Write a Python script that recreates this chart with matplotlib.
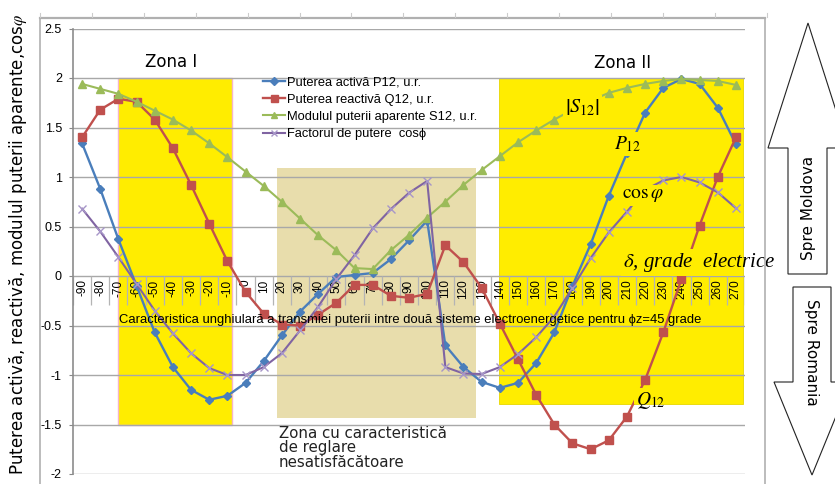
import matplotlib.pyplot as plt
from matplotlib.patches import Rectangle, Polygon
from matplotlib.lines import Line2D

plt.rcParams['font.family'] = ['Liberation Sans', 'DejaVu Sans']
plt.rcParams['mathtext.fontset'] = 'stix'

W, H = 835, 484

# unghiul de putere, grade electrice
delta = [-90, -80, -70, -60, -50, -40, -30, -20, -10, 0, 10, 20, 30, 40, 50, 60, 70,
         80, 90, 100, 110, 120, 130, 140, 150, 160, 170, 180, 190, 200, 210, 220,
         230, 240, 250, 260, 270]

P12 = [1.34, 0.88, 0.37, -0.10, -0.57, -0.92, -1.15, -1.25, -1.21, -1.08, -0.86,
       -0.60, -0.36, -0.18, -0.01, 0.01, 0.03, 0.17, 0.36, 0.56, -0.70, -0.92,
       -1.07, -1.13, -1.08, -0.88, -0.57, -0.10, 0.32, 0.81, 1.24, 1.65, 1.90,
       1.99, 1.94, 1.70, 1.33]

Q12 = [1.40, 1.68, 1.79, 1.76, 1.58, 1.29, 0.92, 0.53, 0.15, -0.16, -0.38, -0.49,
       -0.50, -0.39, -0.27, -0.09, -0.09, -0.20, -0.22, -0.18, 0.31, 0.14, -0.12,
       -0.48, -0.84, -1.20, -1.50, -1.69, -1.75, -1.66, -1.42, -1.05, -0.57,
       -0.03, 0.51, 1.00, 1.40]

S12 = [1.94, 1.89, 1.84, 1.76, 1.67, 1.58, 1.47, 1.34, 1.20, 1.055, 0.91, 0.75,
       0.58, 0.41, 0.26, 0.08, 0.07, 0.26, 0.415, 0.59, 0.75, 0.92, 1.07, 1.21,
       1.35, 1.47, 1.58, 1.68, 1.77, 1.85, 1.90, 1.94, 1.97, 1.99, 1.98, 1.97, 1.93]

cosphi = [0.68, 0.45, 0.19, -0.08, -0.35, -0.58, -0.78, -0.93, -1.00, -1.00, -0.92,
          -0.78, -0.55, -0.31, -0.03, 0.21, 0.48, 0.675, 0.84, 0.96, -0.92, -0.985,
          -0.99, -0.92, -0.79, -0.62, -0.41, -0.12, 0.18, 0.44, 0.65, 0.87, 0.965,
          1.00, 0.945, 0.845, 0.685]

names = ['Puterea activă P12, u.r.', 'Puterea reactivă Q12, u.r.',
         'Modulul puterii aparente S12, u.r.', 'Factorul de putere  cosϕ']

yticks = [-2, -1.5, -1, -0.5, 0, 0.5, 1, 1.5, 2, 2.5]

yellow = '#ffed00'
tan = '#e8ddac'
grid = '#a8a8a8'


def fx(px):
    return px / W


def fy(py):
    return 1 - py / H


fig = plt.figure(figsize=(W / 100, H / 100), dpi=100)
ax = fig.add_axes([fx(73), fy(474), (745 - 73) / W, (474 - 28.5) / H])
xs = list(range(len(delta)))
ax.set_xlim(-0.5, len(delta) - 0.5)
ax.set_ylim(-2, 2.5)

# zone
zone1 = Rectangle((2, -1.5), 6.25, 3.5, fc=yellow, ec='#f5b5c8', lw=1, zorder=1)
zone2 = Rectangle((22.96, -1.29), 13.43, 3.29, fc=yellow, ec='#e6d600', lw=0.6, zorder=1)
zone3 = Rectangle((10.73, -1.43), 10.96, 2.52, fc=tan, ec='none', zorder=1)
for r in (zone1, zone2, zone3):
    ax.add_patch(r)

for v in yticks:
    ax.axhline(v, color=grid, lw=1.0, zorder=1.5)

# celulele etichetelor de pe axa orizontala
ax.vlines([k - 0.5 for k in range(len(delta) + 1)], -0.29, 0, color='#b4b4b4',
          lw=0.9, zorder=1.6)
ax.vlines(len(delta) - 0.5, -0.5, 0, color='#b4b4b4', lw=0.9, zorder=1.6)

for i, d in enumerate(delta):
    ax.text(i, -0.035, str(d), rotation=90, ha='center', va='top', fontsize=8.5,
            zorder=3)

ax.set_xticks([])
ax.set_yticks(yticks)
ax.set_yticklabels([f'{v:g}' for v in yticks], fontsize=9)
ax.tick_params(axis='y', length=3, color='#888888', pad=5)
for s in ('top', 'right', 'bottom'):
    ax.spines[s].set_visible(False)
ax.spines['left'].set_color('#8c8c8c')
ax.spines['left'].set_linewidth(1.2)

h1, = ax.plot(xs, P12, color='#4a7ebb', lw=1.7, marker='D', ms=4.5, zorder=4)
h2, = ax.plot(xs, Q12, color='#c0504d', lw=1.7, marker='s', ms=6.3, zorder=4)
h3, = ax.plot(xs, S12, color='#9bbb59', lw=1.5, marker='^', ms=6, zorder=4)
h4, = ax.plot(xs, cosphi, color='#8064a2', lw=1.5, marker='x', ms=5.5, mew=1,
              mec='#a796c8', zorder=4)

ax.legend([h1, h2, h3, h4], names, loc='upper left',
          bbox_to_anchor=(fx(263), fy(76)), bbox_transform=fig.transFigure,
          frameon=False, fontsize=9.3, handlelength=1.7, handletextpad=0.15,
          labelspacing=0.42, borderpad=0, borderaxespad=0, markerscale=0.8)

ax.text(2.03, -0.445, 'Caracteristica unghiulară a transmiei puterii intre două '
        'sisteme electroenergetice pentru ϕz=45 grade', fontsize=9.4, ha='left',
        va='center', zorder=5)

ax.text(4.9, 2.165, 'Zona I', family='DejaVu Sans', fontsize=12, ha='center',
        va='center')
ax.text(29.78, 2.155, 'Zona II', family='DejaVu Sans', fontsize=12, ha='center',
        va='center')
ax.text(10.84, -1.515, 'Zona cu caracteristică\nde reglare\nnesatisfăcătoare',
        family='DejaVu Sans', fontsize=10.8, ha='left', va='top', linespacing=0.95,
        color='#222222')


def curve_label(x, y, s, **kw):
    # fond galben sub eticheta, taiat la marginea zonei
    m = ax.text(x, y, s, color='none', ha='center', va='center', zorder=5,
                bbox=dict(fc=yellow, ec='none', pad=1.5), clip_on=True, **kw)
    m.set_clip_path(zone2)
    ax.text(x, y, s, ha='center', va='center', zorder=6, **kw)


curve_label(27.55, 1.71, r'$\left|S_{12}\right|$', fontsize=14.5)
curve_label(30.05, 1.33, r'$P_{12}$', fontsize=14)
curve_label(30.9, 0.81, r'$\cos\varphi$', fontsize=14)
curve_label(31.3, -1.26, r'$Q_{12}$', fontsize=14)
curve_label(34.0, 0.14, r'$\delta$, grade  electrice', fontsize=15,
            family=['Liberation Serif', 'DejaVu Serif'], style='italic')

# chenarul exterior
frame_c = '#b0b0b0'
fig.add_artist(Line2D([fx(39.5), fx(764.5)], [fy(17.7), fy(17.7)], color=frame_c, lw=1.6))
fig.add_artist(Line2D([fx(39.5), fx(39.5)], [fy(17.7), 0], color=frame_c, lw=1.2))
fig.add_artist(Line2D([fx(764.5), fx(764.5)], [fy(17.7), 0], color=frame_c, lw=1.2))
for k in range(15):
    px = 40 + 51.9 * k
    fig.add_artist(Line2D([fx(px), fx(px)], [fy(13), fy(17)], color='#cccccc', lw=0.8))

fig.text(fx(18), fy(244), 'Puterea activă, reactivă, modulul puterii aparente,cos$\\varphi$',
         rotation=90, ha='center', va='center', family='DejaVu Sans', fontsize=12)

# sagetile de sens
up = [(788, 274), (788, 148), (768, 148), (808, 23), (848, 148), (827, 148), (827, 274)]
down = [(793, 287), (793, 382), (774, 382), (812, 475), (850, 382), (831, 382), (831, 287)]
for pts in (up, down):
    fig.add_artist(Polygon([(fx(a), fy(b)) for a, b in pts], closed=True, fc='white',
                           ec='#222222', lw=0.8, transform=fig.transFigure))
fig.text(fx(808), fy(208), 'Spre Moldova', rotation=90, ha='center', va='center',
         family='DejaVu Sans', fontsize=11)
fig.text(fx(812), fy(352), 'Spre Romania', rotation=270, ha='center', va='center',
         family='DejaVu Sans', fontsize=11)

fig.savefig('out.png', dpi=100)
